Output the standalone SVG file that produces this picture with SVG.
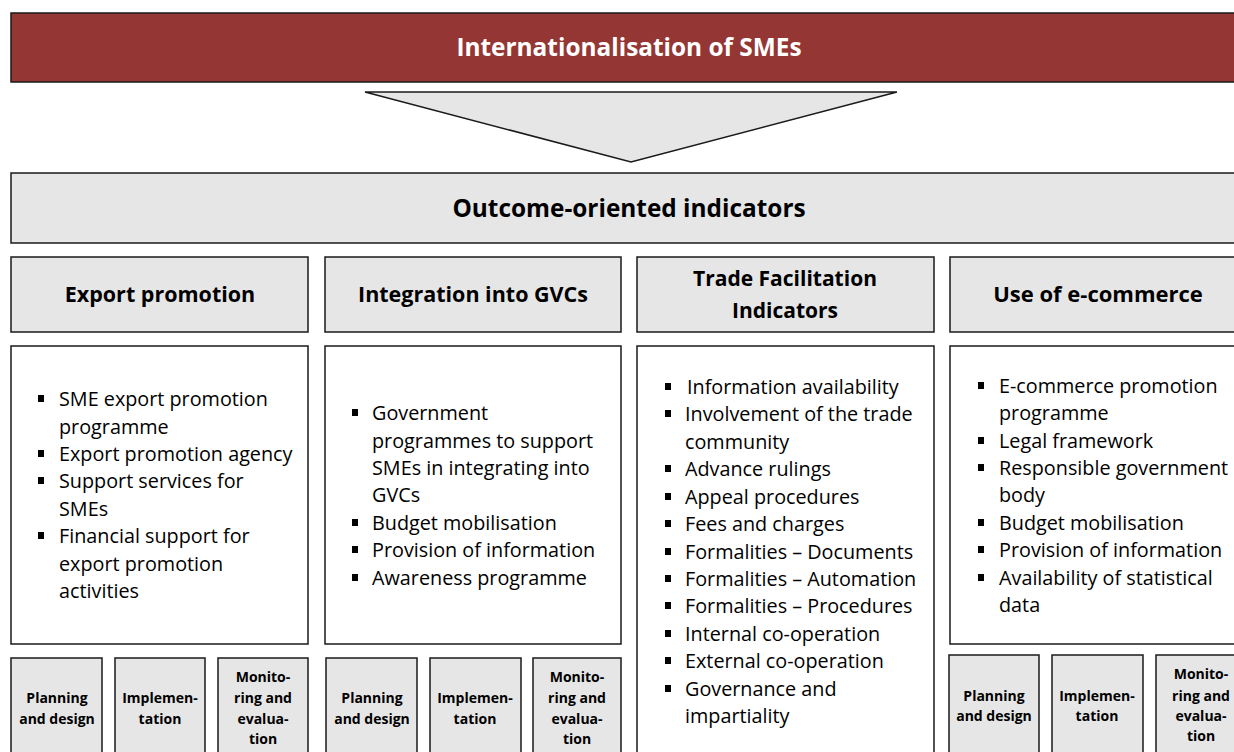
<svg xmlns="http://www.w3.org/2000/svg" width="1234" height="752" viewBox="0 0 1234 752">
<style>
.box{fill:#e6e6e6;stroke:#1a1a1a;stroke-width:1.5}
.wbox{fill:#ffffff;stroke:#1a1a1a;stroke-width:1.5}
.hd{font-family:"Open Sans","Liberation Sans",Arial,sans-serif;font-weight:bold;font-size:21.5px;fill:#000;text-anchor:middle}
.li{font-family:"Open Sans","Liberation Sans",Arial,sans-serif;font-size:19.8px;fill:#000}
.sm{font-family:"Open Sans","Liberation Sans",Arial,sans-serif;font-weight:bold;font-size:14px;fill:#000;text-anchor:middle}
.bu{fill:#000}
</style>
<rect width="1234" height="752" fill="#ffffff"/>
<g id="banner">
<rect x="11" y="13" width="1240" height="69" fill="#943634" stroke="#1a1a1a" stroke-width="1.5"/>
<text x="629" y="56" font-family="Open Sans, Liberation Sans, Arial, sans-serif" font-weight="bold" font-size="24.4px" fill="#ffffff" text-anchor="middle">Internationalisation of SMEs</text>
</g>
<g id="connectors">
<polygon points="365,92 897,92 631,162" class="box"/>
</g>
<g id="outcome">
<rect x="11" y="173" width="1240" height="70" class="box"/>
<text x="629" y="217" class="hd" style="font-size:24.4px">Outcome-oriented indicators</text>
</g>
<g id="col1">
<rect x="11" y="257" width="297" height="75" class="box"/>
<text x="160" y="302" class="hd">Export promotion</text>
<rect x="11" y="346" width="297" height="298" class="wbox"/>
<g class="li">
<text x="59" y="406">SME export promotion</text>
<text x="59" y="434">programme</text>
<text x="59" y="461">Export promotion agency</text>
<text x="59" y="488">Support services for</text>
<text x="59" y="516">SMEs</text>
<text x="59" y="543">Financial support for</text>
<text x="59" y="571">export promotion</text>
<text x="59" y="598">activities</text>
</g>
<rect class="bu" x="38" y="395" width="6" height="7"/>
<rect class="bu" x="38" y="450" width="6" height="7"/>
<rect class="bu" x="38" y="477" width="6" height="7"/>
<rect class="bu" x="38" y="532" width="6" height="7"/>
</g>
<g id="col1-stages">
<rect x="11" y="658" width="91" height="110" class="box"/>
<text x="57" y="703" class="sm">Planning</text>
<text x="57" y="724" class="sm">and design</text>
<rect x="115" y="658" width="90" height="110" class="box"/>
<text x="160" y="703" class="sm">Implemen-</text>
<text x="160" y="724" class="sm">tation</text>
<rect x="218" y="658" width="90" height="110" class="box"/>
<text x="263" y="682" class="sm">Monito-</text>
<text x="263" y="703" class="sm">ring and</text>
<text x="263" y="724" class="sm">evalua-</text>
<text x="263" y="744" class="sm">tion</text>
</g>
<g id="col2">
<rect x="325" y="257" width="296" height="75" class="box"/>
<text x="473" y="302" class="hd">Integration into GVCs</text>
<rect x="325" y="346" width="296" height="298" class="wbox"/>
<g class="li">
<text x="372" y="420">Government</text>
<text x="372" y="448">programmes to support</text>
<text x="372" y="475">SMEs in integrating into</text>
<text x="372" y="502">GVCs</text>
<text x="372" y="530">Budget mobilisation</text>
<text x="372" y="557">Provision of information</text>
<text x="372" y="585">Awareness programme</text>
</g>
<rect class="bu" x="352" y="409" width="6" height="7"/>
<rect class="bu" x="352" y="519" width="6" height="7"/>
<rect class="bu" x="352" y="546" width="6" height="7"/>
<rect class="bu" x="352" y="574" width="6" height="7"/>
</g>
<g id="col2-stages">
<rect x="326" y="658" width="91" height="110" class="box"/>
<text x="372" y="703" class="sm">Planning</text>
<text x="372" y="724" class="sm">and design</text>
<rect x="430" y="658" width="91" height="110" class="box"/>
<text x="475" y="703" class="sm">Implemen-</text>
<text x="475" y="724" class="sm">tation</text>
<rect x="533" y="658" width="88" height="110" class="box"/>
<text x="577" y="682" class="sm">Monito-</text>
<text x="577" y="703" class="sm">ring and</text>
<text x="577" y="724" class="sm">evalua-</text>
<text x="577" y="744" class="sm">tion</text>
</g>
<g id="col3">
<rect x="637" y="257" width="297" height="75" class="box"/>
<text x="785" y="286" class="hd" style="font-size:21px">Trade Facilitation</text>
<text x="785" y="318" class="hd" style="font-size:21px">Indicators</text>
<rect x="637" y="346" width="297" height="420" class="wbox"/>
<g class="li">
<text x="687" y="394">Information availability</text>
<text x="685" y="421">Involvement of the trade</text>
<text x="685" y="449">community</text>
<text x="685" y="476">Advance rulings</text>
<text x="685" y="504">Appeal procedures</text>
<text x="685" y="531">Fees and charges</text>
<text x="685" y="559">Formalities – Documents</text>
<text x="685" y="586">Formalities – Automation</text>
<text x="685" y="613">Formalities – Procedures</text>
<text x="685" y="641">Internal co-operation</text>
<text x="685" y="668">External co-operation</text>
<text x="685" y="696">Governance and</text>
<text x="685" y="723">impartiality</text>
</g>
<rect class="bu" x="665" y="383" width="6" height="7"/>
<rect class="bu" x="665" y="410" width="6" height="7"/>
<rect class="bu" x="665" y="465" width="6" height="7"/>
<rect class="bu" x="665" y="493" width="6" height="7"/>
<rect class="bu" x="665" y="520" width="6" height="7"/>
<rect class="bu" x="665" y="548" width="6" height="7"/>
<rect class="bu" x="665" y="575" width="6" height="7"/>
<rect class="bu" x="665" y="602" width="6" height="7"/>
<rect class="bu" x="665" y="630" width="6" height="7"/>
<rect class="bu" x="665" y="657" width="6" height="7"/>
<rect class="bu" x="665" y="685" width="6" height="7"/>
</g>
<g id="col4">
<rect x="950" y="257" width="300" height="75" class="box"/>
<text x="1098" y="302" class="hd" style="font-size:22px">Use of e-commerce</text>
<rect x="950" y="346" width="300" height="298" class="wbox"/>
<g class="li">
<text x="999" y="393">E-commerce promotion</text>
<text x="999" y="420">programme</text>
<text x="999" y="448">Legal framework</text>
<text x="999" y="475">Responsible government</text>
<text x="999" y="502">body</text>
<text x="999" y="530">Budget mobilisation</text>
<text x="999" y="557">Provision of information</text>
<text x="999" y="585">Availability of statistical</text>
<text x="999" y="612">data</text>
</g>
<rect class="bu" x="978" y="382" width="6" height="7"/>
<rect class="bu" x="978" y="437" width="6" height="7"/>
<rect class="bu" x="978" y="464" width="6" height="7"/>
<rect class="bu" x="978" y="519" width="6" height="7"/>
<rect class="bu" x="978" y="546" width="6" height="7"/>
<rect class="bu" x="978" y="574" width="6" height="7"/>
</g>
<g id="col4-stages">
<rect x="949" y="655" width="90" height="110" class="box"/>
<text x="994" y="701" class="sm">Planning</text>
<text x="994" y="721" class="sm">and design</text>
<rect x="1052" y="655" width="91" height="110" class="box"/>
<text x="1097" y="701" class="sm">Implemen-</text>
<text x="1097" y="721" class="sm">tation</text>
<rect x="1156" y="655" width="90" height="110" class="box"/>
<text x="1201" y="679" class="sm">Monito-</text>
<text x="1201" y="701" class="sm">ring and</text>
<text x="1201" y="721" class="sm">evalua-</text>
<text x="1201" y="741" class="sm">tion</text>
</g>
</svg>
